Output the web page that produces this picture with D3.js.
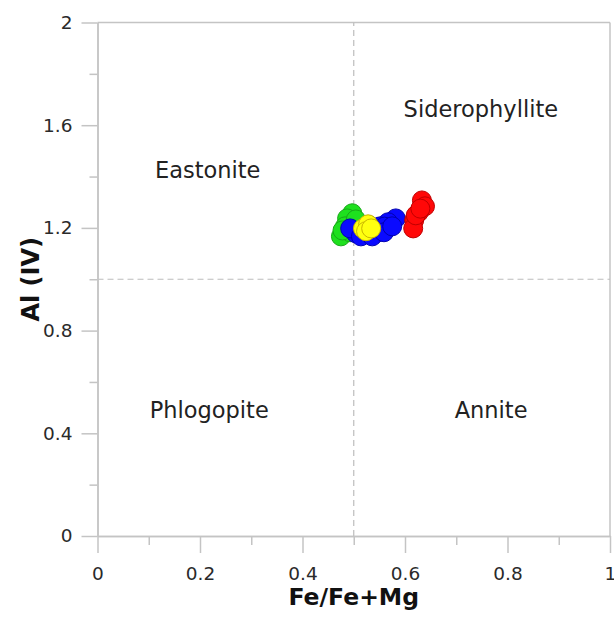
<!DOCTYPE html>
<html>
<head>
<meta charset="utf-8">
<script src="https://cdn.jsdelivr.net/npm/d3@7"></script>
<style>
  body { margin: 0; background: #fff; }
  text { font-family: "DejaVu Sans", sans-serif; }
</style>
</head>
<body>
<script>
// mica classification points
var greenX = [0.497, 0.487, 0.483, 0.475, 0.493, 0.504, 0.478];
var greenY = [1.257, 1.237, 1.206, 1.167, 1.183, 1.233, 1.190];
var blueX = [0.582, 0.567, 0.551, 0.536, 0.520, 0.504, 0.493, 0.547, 0.560, 0.530, 0.514, 0.536, 0.559, 0.575];
var blueY = [1.237, 1.222, 1.206, 1.195, 1.187, 1.179, 1.198, 1.183, 1.205, 1.210, 1.167, 1.167, 1.183, 1.206];
var redX = [0.633, 0.639, 0.627, 0.618, 0.616, 0.621, 0.630];
var redY = [1.307, 1.284, 1.261, 1.230, 1.198, 1.249, 1.275];
var yellowX = [0.518, 0.528, 0.524, 0.534];
var yellowY = [1.198, 1.214, 1.187, 1.198];

var regionNames = ["Siderophyllite", "Eastonite", "Phlogopite", "Annite"];
var regionX = [0.748, 0.215, 0.218, 0.768];
var regionY = [1.63, 1.393, 0.459, 0.459];

var xMajor = [0, 0.2, 0.4, 0.6, 0.8, 1];
var xMinor = [0.1, 0.3, 0.5, 0.7, 0.9];
var yMajor = [0, 0.4, 0.8, 1.2, 1.6, 2];
var yMinor = [0.2, 0.6, 1.0, 1.4, 1.8];

var width = 614, height = 617;
var axisColor = "#c4c4c4";

var svg = d3.select("body").append("svg")
  .attr("width", width)
  .attr("height", height);

var x = d3.scaleLinear().domain([0, 1]).range([97.5, 610]);
var y = d3.scaleLinear().domain([0, 2]).range([536, 22.5]);

// frame top + right
svg.append("line")
  .attr("x1", x(0)).attr("x2", x(1)).attr("y1", y(2)).attr("y2", y(2))
  .attr("stroke", axisColor).attr("stroke-width", 1.5);
svg.append("line")
  .attr("x1", x(1)).attr("x2", x(1)).attr("y1", y(0)).attr("y2", y(2))
  .attr("stroke", axisColor).attr("stroke-width", 1.5);

// dashed dividers
svg.append("line")
  .attr("x1", x(0.5)).attr("x2", x(0.5)).attr("y1", y(0)).attr("y2", y(2))
  .attr("stroke", "#bdbdbd").attr("stroke-width", 1.2)
  .attr("stroke-dasharray", "6,4");
svg.append("line")
  .attr("x1", x(0)).attr("x2", x(1)).attr("y1", y(1)).attr("y2", y(1))
  .attr("stroke", "#bdbdbd").attr("stroke-width", 1.2)
  .attr("stroke-dasharray", "6,4");

function styleAxis(g) {
  g.select(".domain").attr("stroke", axisColor).attr("stroke-width", 1.5);
  g.selectAll(".tick line").attr("stroke", axisColor).attr("stroke-width", 1.5);
  g.selectAll(".tick text").attr("fill", "#2a2a2a").style("font-size", "18.5px");
}

svg.append("g")
  .attr("transform", "translate(0," + y(0) + ")")
  .call(d3.axisBottom(x).tickValues(xMinor).tickSize(9).tickFormat("").tickSizeOuter(0))
  .call(styleAxis);
svg.append("g")
  .attr("transform", "translate(0," + y(0) + ")")
  .call(d3.axisBottom(x).tickValues(xMajor).tickSize(17).tickPadding(14)
    .tickFormat(d3.format("~g")).tickSizeOuter(0))
  .call(styleAxis)
  .attr("font-family", null);

svg.append("g")
  .attr("transform", "translate(" + x(0) + ",0)")
  .call(d3.axisLeft(y).tickValues(yMinor).tickSize(8).tickFormat("").tickSizeOuter(0))
  .call(styleAxis);
svg.append("g")
  .attr("transform", "translate(" + x(0) + ",0)")
  .call(d3.axisLeft(y).tickValues(yMajor).tickSize(16).tickPadding(9)
    .tickFormat(d3.format("~g")).tickSizeOuter(0))
  .call(styleAxis)
  .attr("font-family", null);

// axis titles
svg.append("text")
  .attr("x", x(0.5))
  .attr("y", 605)
  .attr("text-anchor", "middle")
  .style("font-size", "23.5px")
  .style("font-weight", "bold")
  .attr("fill", "#111")
  .text("Fe/Fe+Mg");

svg.append("text")
  .attr("transform", "translate(39," + y(1.0) + ") rotate(-90)")
  .attr("text-anchor", "middle")
  .style("font-size", "24px")
  .style("font-weight", "bold")
  .attr("fill", "#111")
  .text("Al (IV)");

// region names
svg.append("g").selectAll("text")
  .data(regionNames)
  .enter()
  .append("text")
  .attr("x", (d, i) => x(regionX[i]))
  .attr("y", (d, i) => y(regionY[i]))
  .attr("text-anchor", "middle")
  .style("font-size", "22.5px")
  .attr("fill", "#222")
  .text(d => d);

function drawSeries(xs, ys, fill, stroke) {
  svg.append("g").selectAll("circle")
    .data(xs)
    .enter()
    .append("circle")
    .attr("cx", d => x(d))
    .attr("cy", (d, i) => y(ys[i]))
    .attr("r", 9.5)
    .attr("fill", fill)
    .attr("stroke", stroke)
    .attr("stroke-width", 1);
}

drawSeries(greenX, greenY, "#1ee01e", "#17a817");
drawSeries(blueX, blueY, "#0a0aff", "#0000b0");
drawSeries(redX, redY, "#ff0808", "#c00000");
drawSeries(yellowX, yellowY, "#ffff10", "#c8b400");
</script>
</body>
</html>
